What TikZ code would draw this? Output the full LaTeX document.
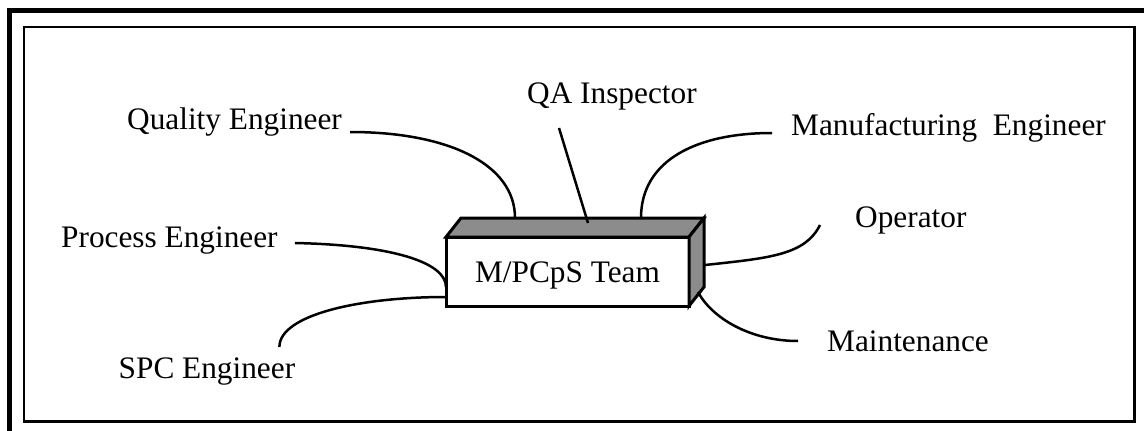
\documentclass[tikz,border=0pt]{standalone}
\usepackage{fontspec}
\setmainfont{Liberation Serif}
\usetikzlibrary{calc}

\begin{document}
\begin{tikzpicture}[x=1pt,y=-1pt,
  lbl/.style={inner sep=0pt,anchor=base west,font=\fontsize{31.3}{36}\selectfont},
  team/.style={rectangle,draw,line width=3pt,fill=white,minimum width=243pt,
               minimum height=69pt,inner sep=0pt,outer sep=0pt,text height=21pt,
               text depth=0pt,font=\fontsize{31.3}{36}\selectfont},
  face/.style={draw,line width=3pt,fill=black!45},
  link/.style={line width=2.5pt}
]
  \useasboundingbox (0,0) rectangle (1144,431);
  \clip (0,0) rectangle (1144,431);
  \draw[line width=5pt] (9,445) -- (9,10.5) -- (1160,10.5);
  \draw[line width=2pt] (24,27) rectangle (1134.5,421.5);
  \draw[line width=3pt] (24,421.5) -- (1134.5,421.5) -- (1134.5,27);

  \node[lbl] (quality) at (127,129) {Quality Engineer};
  \node[lbl] (qa) at (527,103) {QA Inspector};
  \node[lbl] (manuf) at (791,135) {Manufacturing\ \ Engineer};
  \node[lbl] (operator) at (855,227) {Operator};
  \node[lbl] (process) at (61,247) {Process Engineer};
  \node[lbl] (maint) at (827,351) {Maintenance};
  \node[lbl] (spc) at (118.5,378) {SPC Engineer};

  \node[team] (team) at (567.5,271.5) {M/PCpS Team};
  \draw[face] (team.north west) -- ++(15,-19) -- ($(team.north east)+(15,-19)$)
    -- (team.north east) -- cycle;
  \draw[face] (team.north east) -- ++(15,-19) -- ++(0,69) -- (team.south east) -- cycle;

  \coordinate (qTail) at ($(quality.base east)+(8,3)$);
  \coordinate (qaTail) at ($(qa.base west)+(32,25)$);
  \coordinate (mTail) at ($(manuf.base west)+(-19,-2)$);
  \coordinate (opTail) at ($(operator.base west)+(-35,-2)$);
  \coordinate (pTail) at ($(process.base east)+(17,-4)$);
  \coordinate (mtTail) at ($(maint.base west)+(-29,-10)$);
  \coordinate (sTail) at ($(spc.base east)+(-16,-31)$);

  \coordinate (qHead) at ($(team.north west)+(69,-19)$);
  \coordinate (qaHead) at ($(team.north west)+(142,-14)$);
  \coordinate (mHead) at ($(team.north west)+(195,-19)$);
  \coordinate (opHead) at ($(team.north east)+(16,28)$);
  \coordinate (mtHead) at ($(team.north east)+(9,55)$);
  \coordinate (pHead) at ($(team.north west)+(0,50)$);
  \coordinate (sHead) at ($(team.north west)+(0,60)$);

  \draw[link] (qTail) .. controls +(100,0) and +(0,-53) .. (qHead);
  \draw[link] (qaTail) -- (qaHead);
  \draw[link] (mTail) .. controls +(-75,0) and +(0,-58) .. (mHead);
  \draw[link] (opHead) .. controls +(65,-7) and +(-15,30) .. (opTail);
  \draw[link] (mtHead) .. controls +(14,26) and +(-48,0) .. (mtTail);
  \draw[link] (pTail) .. controls +(96,2) and +(0,-25) .. (pHead);
  \draw[link] (sHead) .. controls +(-87,0) and +(0,-32) .. (sTail);
\end{tikzpicture}
\end{document}
